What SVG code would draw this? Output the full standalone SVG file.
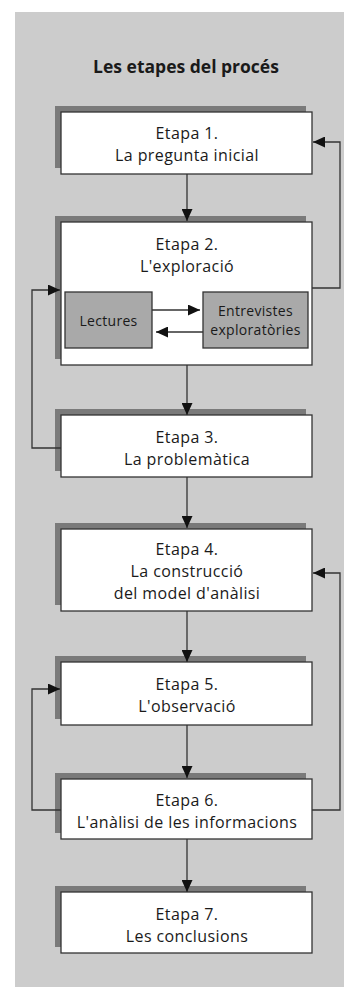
<svg xmlns="http://www.w3.org/2000/svg" width="344" height="987" viewBox="0 0 344 987">
<style>
.bg{fill:#cccccc}
.sh{fill:#7a7a7a}
.box{fill:#ffffff;stroke:#333;stroke-width:1.3}
.ibox{fill:#a9a9a9;stroke:#333;stroke-width:1.3}
.t{font-family:"Open Sans","Liberation Sans",sans-serif;font-size:16px;letter-spacing:0.4px;fill:#1a1a1a;text-anchor:middle}
.s{font-family:"Open Sans","Liberation Sans",sans-serif;font-size:14px;letter-spacing:0.3px;fill:#1a1a1a;text-anchor:middle}
.title{font-family:"Open Sans","Liberation Sans",sans-serif;font-size:17.5px;font-weight:bold;fill:#1a1a1a;text-anchor:middle}
.c{fill:none;stroke:#333;stroke-width:1.3}
</style>
<defs>
<marker id="ah" viewBox="0 0 12 11" refX="12" refY="5.5" markerWidth="12" markerHeight="11" markerUnits="userSpaceOnUse" orient="auto">
<path d="M0,0 L12,5.5 L0,11 Z" fill="#111"/>
</marker>
</defs>
<rect class="bg" x="15" y="12" width="329" height="975"/>
<text class="title" x="186" y="73">Les etapes del procés</text>
<g id="n1">
<rect class="sh" x="55" y="106" width="251" height="62"/>
<rect class="box" x="61" y="112" width="251" height="62"/>
<text class="t" x="187" y="139">Etapa 1.</text>
<text class="t" x="187" y="161">La pregunta inicial</text>
</g>
<g id="n2">
<rect class="sh" x="55" y="216" width="251" height="143"/>
<rect class="box" x="61" y="222" width="251" height="143"/>
<text class="t" x="187" y="250">Etapa 2.</text>
<text class="t" x="187" y="272">L'exploració</text>
</g>
<g id="n2a">
<rect class="ibox" x="65" y="292" width="87" height="56"/>
<text class="s" x="108.5" y="326">Lectures</text>
</g>
<g id="n2b">
<rect class="ibox" x="203" y="292" width="105" height="56"/>
<text class="s" x="255.5" y="315.5">Entrevistes</text>
<text class="s" x="255.5" y="335">exploratòries</text>
</g>
<g id="n3">
<rect class="sh" x="55" y="409" width="251" height="62"/>
<rect class="box" x="61" y="415" width="251" height="62"/>
<text class="t" x="187" y="443">Etapa 3.</text>
<text class="t" x="187" y="465">La problemàtica</text>
</g>
<g id="n4">
<rect class="sh" x="55" y="523" width="251" height="82"/>
<rect class="box" x="61" y="529" width="251" height="82"/>
<text class="t" x="187" y="555">Etapa 4.</text>
<text class="t" x="187" y="577">La construcció</text>
<text class="t" x="187" y="599">del model d'anàlisi</text>
</g>
<g id="n5">
<rect class="sh" x="55" y="656" width="251" height="63"/>
<rect class="box" x="61" y="662" width="251" height="63"/>
<text class="t" x="187" y="690">Etapa 5.</text>
<text class="t" x="187" y="712">L'observació</text>
</g>
<g id="n6">
<rect class="sh" x="55" y="773" width="251" height="60"/>
<rect class="box" x="61" y="779" width="251" height="60"/>
<text class="t" x="187" y="806">Etapa 6.</text>
<text class="t" x="187" y="828">L'anàlisi de les informacions</text>
</g>
<g id="n7">
<rect class="sh" x="55" y="886" width="251" height="61"/>
<rect class="box" x="61" y="892" width="251" height="61"/>
<text class="t" x="187" y="920">Etapa 7.</text>
<text class="t" x="187" y="942">Les conclusions</text>
</g>
<g id="connectors">
<line class="c" x1="187" y1="174" x2="187" y2="221" marker-end="url(#ah)"/>
<line class="c" x1="187" y1="365" x2="187" y2="415" marker-end="url(#ah)"/>
<line class="c" x1="187" y1="477" x2="187" y2="528" marker-end="url(#ah)"/>
<line class="c" x1="187" y1="611" x2="187" y2="662" marker-end="url(#ah)"/>
<line class="c" x1="187" y1="725" x2="187" y2="778" marker-end="url(#ah)"/>
<line class="c" x1="187" y1="839" x2="187" y2="892" marker-end="url(#ah)"/>
<path class="c" d="M312,288 H340 V142 H313" marker-end="url(#ah)"/>
<path class="c" d="M61,448 H32 V290 H60" marker-end="url(#ah)"/>
<path class="c" d="M312,810 H340 V573 H313" marker-end="url(#ah)"/>
<path class="c" d="M61,810 H32 V689 H60" marker-end="url(#ah)"/>
<line class="c" x1="152" y1="310" x2="200" y2="310" marker-end="url(#ah)"/>
<line class="c" x1="203" y1="332" x2="156" y2="332" marker-end="url(#ah)"/>
</g>
</svg>
